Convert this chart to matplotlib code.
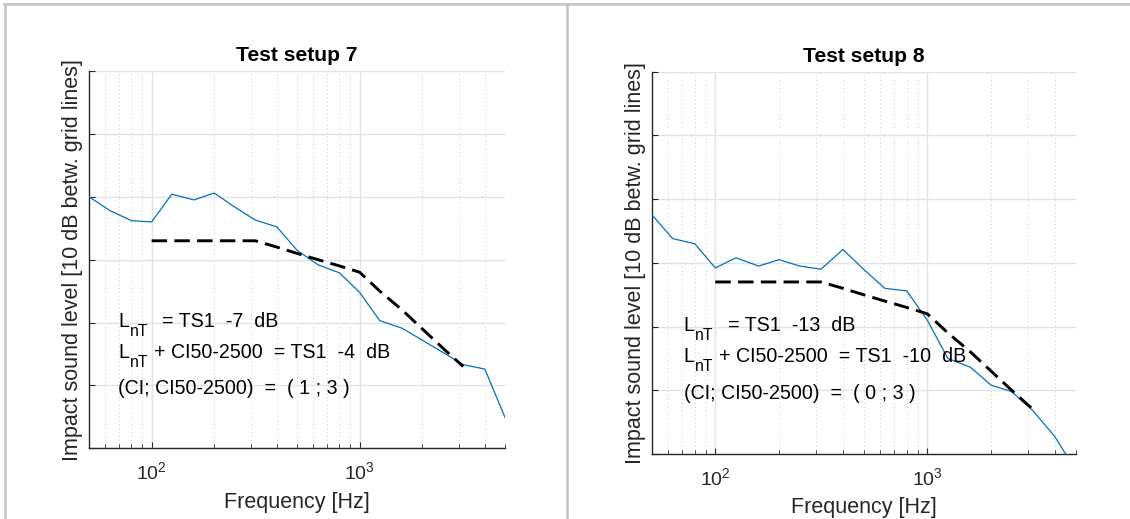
import matplotlib
matplotlib.use("Agg")
import matplotlib.pyplot as plt
from matplotlib.lines import Line2D
from matplotlib.transforms import ScaledTranslation
from matplotlib.ticker import LogLocator, NullFormatter, MultipleLocator

plt.rcParams['font.family'] = ['Liberation Sans', 'DejaVu Sans']
plt.rcParams['mathtext.fontset'] = 'custom'
plt.rcParams['mathtext.rm'] = 'Liberation Sans'
plt.rcParams['mathtext.it'] = 'Liberation Sans:italic'
plt.rcParams['mathtext.bf'] = 'Liberation Sans:bold'
plt.rcParams['mathtext.default'] = 'regular'

# ---- data ----
freqs = [50, 63, 80, 100, 125, 160, 200, 250, 315, 400, 500, 630, 800,
         1000, 1250, 1600, 2000, 2500, 3150, 4000, 5000]
ts7 = [60.0, 57.8, 56.2, 56.0, 60.4, 59.5, 60.6, 58.4, 56.3, 55.2, 51.5,
       49.2, 47.9, 44.8, 40.3, 39.1, 37.2, 35.3, 33.3, 32.6, 24.9]
ts8 = [57.6, 53.8, 53.0, 49.2, 50.8, 49.5, 50.5, 49.5, 49.0, 52.1, 49.0,
       46.0, 45.6, 41.0, 35.0, 33.6, 30.8, 29.8, 26.8, 22.7, 17.5]
ref_freqs = [100, 125, 160, 200, 250, 315, 400, 500, 630, 800, 1000,
             1250, 1600, 2000, 2500, 3150]
ref7 = [53, 53, 53, 53, 53, 53, 52, 51, 50, 49, 48, 45, 42, 39, 36, 33]
ref8 = [47, 47, 47, 47, 47, 47, 46, 45, 44, 43, 42, 39, 36, 33, 30, 27]

titles = ["Test setup 7", "Test setup 8"]
# each line: (main symbol, subscript, rest, number of spaces before rest)
notes7 = [("L", "nT", "= TS1  -7  dB", 2.6),
          ("L", "nT", "+ CI50-2500  = TS1  -4  dB", 1),
          ("", "", "(CI; CI50-2500)  =  ( 1 ; 3 )", 0)]
notes8 = [("L", "nT", "= TS1  -13  dB", 2.6),
          ("L", "nT", "+ CI50-2500  = TS1  -10  dB", 1),
          ("", "", "(CI; CI50-2500)  =  ( 0 ; 3 )", 0)]
xlabel = "Frequency [Hz]"
ylabel = "Impact sound level [10 dB betw. grid lines]"

W, H = 1130, 519
DPI = 100
fig = plt.figure(figsize=(W / DPI, H / DPI), dpi=DPI)
renderer = fig.canvas.get_renderer()

# frame lines
fc = '#c3c3c3'
fig.add_artist(Line2D([4 / W, 1], [1 - 3.5 / H, 1 - 3.5 / H], transform=fig.transFigure, color=fc, lw=1.8))
fig.add_artist(Line2D([5 / W, 5 / W], [0, 1 - 3.5 / H], transform=fig.transFigure, color=fc, lw=1.8))
fig.add_artist(Line2D([567 / W, 567 / W], [0, 1 - 3.5 / H], transform=fig.transFigure, color=fc, lw=1.8))

boxes = [(89, 71, 505, 448.3), (651.5, 71.7, 1075.5, 454)]
series = [ts7, ts8]
refs = [ref7, ref8]
notes = [notes7, notes8]
text_x = [0.0704, 0.0757]
text_y = [0.321, 0.240, 0.145]
txtcol = '#262626'
FS = 14.1
SUBFS = 11.3
fs_px = FS * DPI / 72.0


def note(ax, x, y, main, sub, rest, nsp):
    base = ax.transAxes
    dx = 0.0  # inches
    if main:
        t = ax.text(x, y, main, transform=base, fontsize=FS, color='black',
                    ha='left', va='baseline', zorder=5)
        dx += t.get_window_extent(renderer).width / DPI + 0.6 / DPI
    if sub:
        t = ax.text(x, y, sub, fontsize=SUBFS, color='black', ha='left', va='baseline', zorder=5,
                    transform=base + ScaledTranslation(dx, -9.0 / DPI, fig.dpi_scale_trans))
        dx += t.get_window_extent(renderer).width / DPI
    dx += nsp * 0.278 * fs_px / DPI
    ax.text(x, y, rest, fontsize=FS, color='black', ha='left', va='baseline', zorder=5,
            transform=base + ScaledTranslation(dx, 0, fig.dpi_scale_trans))


for i in range(2):
    l, t, r, b = boxes[i]
    ax = fig.add_axes([l / W, 1 - b / H, (r - l) / W, (b - t) / H])
    ax.set_xscale('log')
    ax.set_xlim(50, 5000)
    ax.set_ylim(20, 80)
    ax.plot(freqs, series[i], color='#0072BD', lw=0.9, zorder=3)
    ax.plot(ref_freqs, refs[i], color='black', lw=2.1, linestyle=(0, (5.3, 2.5)), zorder=4)

    ax.yaxis.set_major_locator(MultipleLocator(10))
    ax.yaxis.set_major_formatter(NullFormatter())
    ax.xaxis.set_major_locator(LogLocator(base=10, numticks=10))
    ax.xaxis.set_minor_locator(LogLocator(base=10, subs=range(2, 10), numticks=20))
    ax.xaxis.set_minor_formatter(NullFormatter())

    ax.grid(True, which='major', color='#e3e3e3', lw=1.0, linestyle='-', zorder=0)
    ax.grid(True, which='minor', axis='x', color='#c8c8c8', lw=0.7, linestyle=(0, (1, 3)), zorder=0)
    ax.set_axisbelow(True)

    for s in ['top', 'right']:
        ax.spines[s].set_visible(False)
    for s in ['left', 'bottom']:
        ax.spines[s].set_color(txtcol)
        ax.spines[s].set_linewidth(1.0)

    ax.tick_params(which='both', direction='in', colors=txtcol, labelcolor=txtcol)
    ax.tick_params(which='major', length=4, width=0.8, labelsize=14, pad=9.5)
    ax.tick_params(which='minor', length=3, width=0.6)

    ax.set_title(titles[i], fontsize=15.2, fontweight='bold', color='black', pad=7)
    ax.set_xlabel(xlabel, fontsize=15.5, color=txtcol, labelpad=6)
    ax.set_ylabel(ylabel, fontsize=15.5, color=txtcol, labelpad=-5.5)

    for j, (m, sb, rest, nsp) in enumerate(notes[i]):
        note(ax, text_x[i], text_y[j], m, sb, rest, nsp)

fig.savefig('out.png', dpi=DPI)
